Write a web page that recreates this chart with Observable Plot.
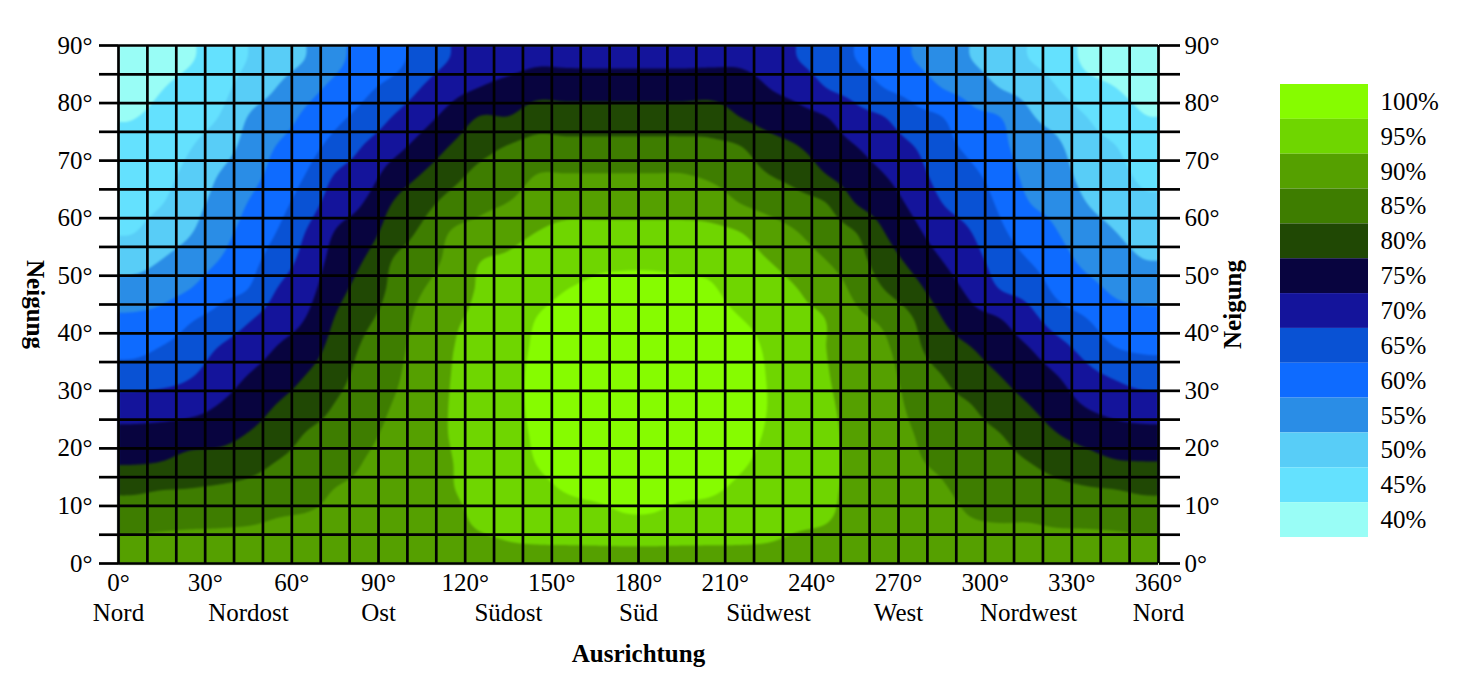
<!DOCTYPE html>
<html><head><meta charset="utf-8">
<script src="https://cdn.jsdelivr.net/npm/d3@7"></script>
<script src="https://cdn.jsdelivr.net/npm/@observablehq/plot@0.6"></script>
<style>
html,body{margin:0;padding:0;background:#fff;}
#wrap{position:relative;width:1461px;height:690px;overflow:hidden;}
#chart{position:absolute;left:0;top:0;}
#legend{position:absolute;left:1280px;top:84px;}
#wrap svg{display:block;}
</style></head><body><div id="wrap"><div id="chart"></div><div id="legend"></div></div>
<script>
// Azimuth grid lines (Ausrichtung) and tilt grid lines (Neigung)
const azimuthGrid = [0,10,20,30,40,50,60,70,80,90,100,110,120,130,140,150,160,170,180,190,200,210,220,230,240,250,260,270,280,290,300,310,320,330,340,350,360];
const tiltTicks = [0,5,10,15,20,25,30,35,40,45,50,55,60,65,70,75,80,85,90];
const azimuthLabels = [0,30,60,90,120,150,180,210,240,270,300,330,360];
const directionTicks = [0,45,90,135,180,225,270,315,360];
const directionNames = ["Nord","Nordost","Ost","Südost","Süd","Südwest","West","Nordwest","Nord"];

// Relative yield (%) read at the centre of every grid cell (azimuth 5°,15°,…,355°) per tilt band
const neigung_02_5 = [86.5,86.8,87,87,87.3,87.2,87.3,87.4,87.6,87.8,88.2,88.3,89,89.6,89.7,89.7,89.7,89.7,89.7,89.7,89.7,89.7,89.6,89,89,88.5,88.2,87.7,87.6,87.3,87.2,87.2,87,87,86.8,86.5];
const neigung_07_5 = [83.2,83.6,83.9,84.1,84.4,85.2,85.6,86.2,86.7,87.6,88.5,89,90.6,91.5,92.5,93,93.5,94.4,94.4,93.5,93.2,92.8,92,90.7,90.1,89.3,88.5,87,86.6,85.2,84.8,84.8,84.2,84,83.7,83.2];
const neigung_12_5 = [79.5,80.2,80.4,80.9,81.5,82.5,83.3,85.2,85.9,87.3,88.8,89.8,91,92.5,94,95.1,95.6,95.8,95.8,95.6,95.3,94.3,93.2,91.3,90.4,89.5,88.7,86.4,85.5,83.8,83.2,82.4,81.4,80.7,80.3,79.5];
const neigung_17_5 = [74.7,75.2,76.8,77.1,78.3,80.2,81.7,83.3,85.1,86.8,89,89.9,91.3,93.2,95.1,96,96.6,96.8,96.8,96.6,96.3,95.4,94,91.6,90.5,89.6,88.8,85.7,84.3,82.6,81.6,80.1,78.3,76.9,75.5,75.2];
const neigung_22_5 = [71.3,71.7,72.5,73.3,75.2,77.5,80.2,81.7,83.9,86.1,89,90.1,91.5,93.6,95.5,96.6,97.2,97.4,97.4,97.2,96.9,96,94.6,91.8,90.5,89.5,88.6,85.1,82.9,81.4,80.1,77.5,75.1,73.2,71.8,71.4];
const neigung_27_5 = [67.3,67.5,68.2,70.2,72.5,75.2,77.5,80.2,82.8,85.2,88.8,90.1,91.5,93.8,95.8,96.8,97.5,97.7,97.7,97.5,97.1,96.3,94.9,91.8,90.4,89.2,88,83.8,81.4,80.1,77.5,75.1,72.5,69.7,68.2,67.3];
const neigung_32_5 = [62.5,63.3,64.8,67.5,70.2,72.5,75.2,78.3,81.7,83.9,88.3,90,91.4,93.8,95.8,96.8,97.5,97.7,97.7,97.5,97.1,96.2,94.8,91.6,90.2,88.6,87,82.6,80.1,77.5,75.1,72.5,70.1,66.6,64.5,62.9];
const neigung_37_5 = [58.6,60.2,62.3,65.2,67.4,70.2,72.5,76.7,80.6,82.9,87.5,89.8,91.2,93.5,95.5,96.5,97.2,97.4,97.4,97.2,96.8,95.9,94.5,91.3,90,87.8,85.8,81.3,77.5,75.1,72.5,70.1,66.7,63.3,60.1,59.2];
const neigung_42_5 = [55.8,56.7,59.5,61.7,64.5,67.5,70.2,75.2,79,81.9,86.5,89.3,90.8,93,95.1,96,96.6,96.8,96.8,96.6,96.3,95.1,93.8,90.8,89.9,86.2,84,80.1,75.1,71.7,70.1,66.7,62.5,60.1,57.1,56.4];
const neigung_47_5 = [52.1,53.3,55.2,58.3,60.2,65.2,68.3,73.3,77,81,84.8,87.9,90.4,92,93.8,95,95.6,95.8,95.8,95.6,95.4,93.5,92.5,90.1,88,84,80.1,76.7,72.5,69,65.1,63.3,59,56.7,54.3,53.3];
const neigung_52_5 = [48.2,50.2,52.4,55.2,58.3,62.5,66.7,71.7,75.2,80.2,82.5,86.4,89.9,90.8,92.5,93.3,94.2,94.4,94.4,94.2,93.8,92,90.1,87.5,85.1,82,77.5,73.8,70.1,67,63,60.1,57,54,52.2,50.2];
const neigung_57_5 = [44.9,47.4,49.8,53.3,56.7,60.2,65.2,70.2,72.5,77.5,80.8,85.2,86.7,88.3,90.1,91.2,91.3,91.3,91.3,91.3,91.2,90.1,87.5,85.1,82.5,80.1,75.1,71.3,67.5,65.1,61,57.6,55.1,52,50.1,48];
const neigung_62_5 = [43.6,44.9,48.2,51.7,55.2,58.3,62.5,67.5,70.2,75.2,78.3,81.7,83.8,85.2,87.5,88.3,88.3,88.3,88.3,88.3,87.5,85.1,83.3,81.7,80.1,75.1,72.5,69,65.1,63,59.3,55.2,53.6,50.1,48.3,46];
const neigung_67_5 = [42.4,43.6,46.5,50.2,53.3,56.7,60.2,65.2,67.5,72.1,75.2,78.3,81.3,82.5,85.1,85.2,85.2,85.2,85.2,85.2,84.2,82.5,80.1,78.3,75.1,72.5,70.1,67,63.3,61,57.9,53.7,52.1,48.3,46.7,44];
const neigung_72_5 = [41.1,42.4,44.8,47.5,51.7,55.2,58,61.7,65.2,68.3,71.7,75.2,78.3,80.2,81.7,81.4,81.4,81.4,81.4,81.4,81,80.1,77,75.1,72.5,70.1,67.5,65.1,61.7,58.8,56.4,52.2,50.7,46.7,45.1,42];
const neigung_77_5 = [39.9,41.1,43.2,45.2,50.2,52.5,56,58.8,61.7,65.2,68.3,71.7,75.2,75.2,77.5,77.3,77.3,77.3,77.3,77.3,77.4,75.1,73,71.7,70.1,66.7,65.1,61.7,60.1,56.3,55.1,50.7,48.3,45.1,42.5,40.2];
const neigung_82_5 = [38.7,39.9,41.5,43.4,47.5,50.2,53.3,56.3,59,61.7,65.2,68.3,70.2,71.7,73.3,73.1,73.1,73.1,73.1,73.1,73.3,72.5,70.1,68.3,65.1,63.3,60.1,58.3,55.1,53.3,50.1,48.3,45.1,41.7,40.1,38.7];
const neigung_87_5 = [37.5,38.6,39.8,41.8,45.2,48.1,50.2,53.8,56.9,58.3,62.4,65.2,67.5,68.3,69.3,69.2,69.1,69.1,69.1,69.1,69.2,69.3,68,65.1,63,60.1,57.5,55.1,52.5,50.1,47.5,45.1,43,39.2,38.5,37.5];

// Colour bands: lower threshold of each band, its legend label and colour
const bandThresholds = [35,40,45,50,55,60,65,70,75,80,85,90,95];
const bandLabels = ["40%","45%","50%","55%","60%","65%","70%","75%","80%","85%","90%","95%","100%"];
const bandColors = ["#99fdf6","#64e1fe","#58cdf7","#2a8de6","#0e6bff","#0952d4","#14149b","#08043f","#204804","#3e7d00","#55a000","#6fd600","#86fc00"];

const rows = [neigung_02_5,neigung_07_5,neigung_12_5,neigung_17_5,neigung_22_5,neigung_27_5,neigung_32_5,neigung_37_5,neigung_42_5,neigung_47_5,neigung_52_5,neigung_57_5,neigung_62_5,neigung_67_5,neigung_72_5,neigung_77_5,neigung_82_5,neigung_87_5];
const nCols = azimuthGrid.length - 1;
const nRows = rows.length;

// One sample per grid cell, placed at the cell centre
const samples = [];
rows.forEach((row, r) => row.forEach((v, c) => samples.push({
  az: (azimuthGrid[c] + azimuthGrid[c + 1]) / 2,
  tilt: (tiltTicks[r] + tiltTicks[r + 1]) / 2,
  v
})));

// Smooth (Catmull-Rom) spatial interpolation of the regular sample grid, used by Plot's contour sampler
function smoothGrid(index, width, height, X, Y, V) {
  const gx0 = X[0], gdx = X[1] - X[0];
  const gy0 = Y[0], gdy = Y[nCols] - Y[0];
  const g = (r, c) => V[Math.min(nRows - 1, Math.max(0, r)) * nCols + Math.min(nCols - 1, Math.max(0, c))];
  const cr = (p0, p1, p2, p3, t) => p1 + 0.5 * t * (p2 - p0 + t * (2 * p0 - 5 * p1 + 4 * p2 - p3 + t * (3 * (p1 - p2) + p3 - p0)));
  const out = new Float64Array(width * height);
  for (let j = 0; j < height; ++j) {
    const v = (j + 0.5 - gy0) / gdy;
    const r = Math.floor(v), tv = v - r;
    for (let i = 0; i < width; ++i) {
      const u = (i + 0.5 - gx0) / gdx;
      const c = Math.floor(u), tu = u - c;
      const col = k => cr(g(r - 1, c + k), g(r, c + k), g(r + 1, c + k), g(r + 2, c + k), tv);
      out[i + j * width] = cr(col(-1), col(0), col(1), col(2), tu);
    }
  }
  return out;
}

const font = "'Liberation Serif','Times New Roman',serif";
const lineW = 2.7;

const chart = Plot.plot({
  width: 1461,
  height: 690,
  marginLeft: 118,
  marginRight: 303,
  marginTop: 45,
  marginBottom: 127,
  style: {fontFamily: font, fontSize: "25px", color: "black", background: "white"},
  x: {domain: [azimuthGrid[0], azimuthGrid[azimuthGrid.length - 1]]},
  y: {domain: [tiltTicks[0], tiltTicks[tiltTicks.length - 1]]},
  color: {type: "ordinal", domain: bandThresholds, range: bandColors},
  marks: [
    Plot.contour(samples, {
      x: "az", y: "tilt", fill: "v",
      interpolate: smoothGrid, pixelSize: 1,
      thresholds: bandThresholds, stroke: "none",
      imageFilter: "blur(1px)"
    }),
    Plot.gridX(azimuthGrid, {stroke: "black", strokeOpacity: 1, strokeWidth: lineW}),
    Plot.gridY(tiltTicks, {stroke: "black", strokeOpacity: 1, strokeWidth: lineW}),
    Plot.axisY(tiltTicks, {anchor: "left", tickSize: 19, tickPadding: 7, strokeWidth: lineW, fontSize: 25,
      tickFormat: d => d % 10 === 0 ? `${d}°` : "", label: null}),
    Plot.axisY(tiltTicks, {anchor: "right", tickSize: 21, tickPadding: 5, strokeWidth: lineW, fontSize: 25,
      tickFormat: d => d % 10 === 0 ? `${d}°` : "", label: null}),
    Plot.axisX(azimuthLabels, {anchor: "bottom", tickSize: 0, tickPadding: 10, fontSize: 25,
      tickFormat: d => `${d}°`, label: null}),
    Plot.axisX(directionTicks, {anchor: "bottom", tickSize: 0, tickPadding: 40, fontSize: 25,
      tickFormat: d => directionNames[directionTicks.indexOf(d)], label: null}),
    Plot.text(["Neigung"], {text: d => d, frameAnchor: "left", textAnchor: "middle", lineAnchor: "middle", rotate: 90, dx: -84, fontWeight: "bold", fontSize: 25}),
    Plot.text(["Neigung"], {text: d => d, frameAnchor: "right", textAnchor: "middle", lineAnchor: "middle", rotate: -90, dx: 74, fontWeight: "bold", fontSize: 25}),
    Plot.text(["Ausrichtung"], {text: d => d, frameAnchor: "bottom", textAnchor: "middle", lineAnchor: "middle", dy: 90, fontWeight: "bold", fontSize: 25})
  ]
});
document.getElementById("chart").appendChild(chart);

const legendOrder = bandLabels.slice().reverse();
const legend = Plot.plot({
  width: 181,
  height: 453,
  marginLeft: 0, marginRight: 93, marginTop: 0, marginBottom: 0,
  style: {fontFamily: font, fontSize: "25px", color: "black", background: "white"},
  y: {type: "band", domain: legendOrder, padding: 0, round: false, axis: null},
  color: {type: "ordinal", domain: bandLabels, range: bandColors},
  marks: [
    Plot.cell(legendOrder, {y: d => d, fill: d => d, inset: 0}),
    Plot.text(legendOrder, {y: d => d, text: d => d, frameAnchor: "right", textAnchor: "start", dx: 12, fontSize: 25})
  ]
});
document.getElementById("legend").appendChild(legend);
</script></body></html>
